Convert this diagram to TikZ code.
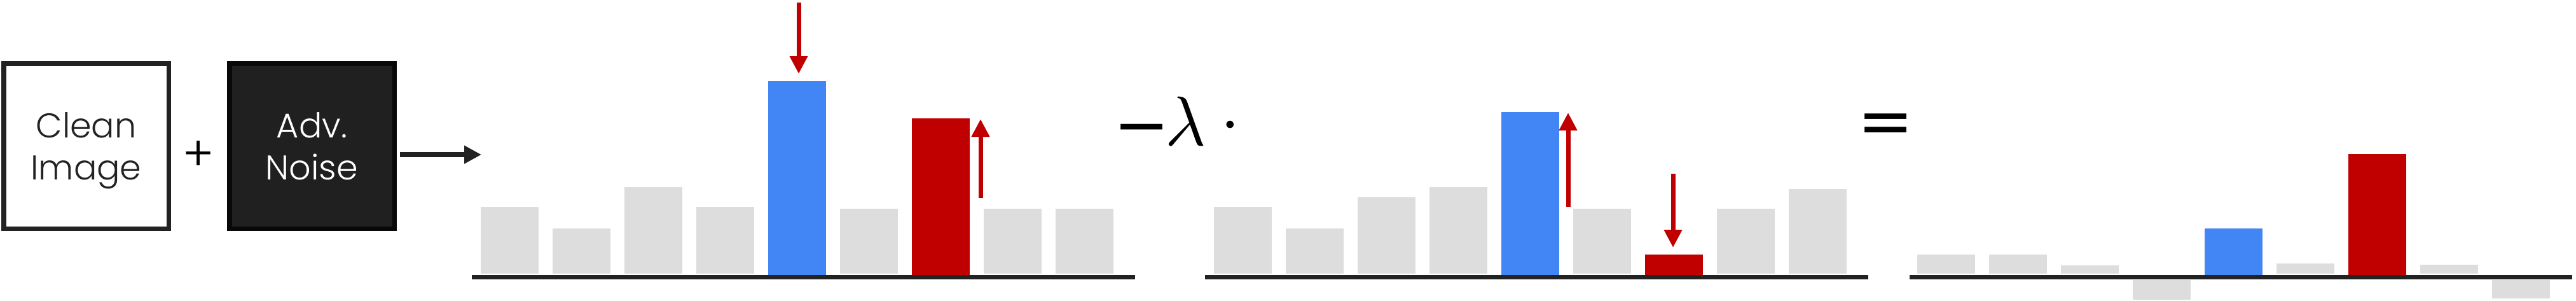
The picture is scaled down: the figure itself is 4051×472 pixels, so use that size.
\documentclass[tikz,border=0pt]{standalone}
\usepackage[no-math]{fontspec}
\IfFontExistsTF{Poppins Light}{\setmainfont{Poppins Light}}{\setmainfont{Poppins}}
\newfontfamily\symfont{DejaVu Sans}
\usepackage{graphicx}
\usetikzlibrary{arrows.meta}
\definecolor{gbar}{HTML}{DDDDDD}
\definecolor{bbar}{HTML}{4285F4}
\definecolor{rbar}{HTML}{C00000}
\definecolor{dark}{HTML}{222222}
\definecolor{noisefill}{HTML}{202020}
\definecolor{noiseline}{HTML}{080808}
\begin{document}
\begin{tikzpicture}[x=1pt,y=-1pt,
  box/.style={minimum width=259.5pt,minimum height=259.5pt,line width=7.5pt,inner sep=0pt},
  lbl/.style={font=\fontsize{54}{66}\selectfont,anchor=base,inner sep=0pt},
  mathsym/.style={anchor=base,inner sep=0pt,text=black},
  blackarrow/.style={draw=dark,line width=8pt,-{Triangle[length=27pt,width=27pt]}},
  redarrow/.style={draw=rbar,line width=7pt,-{Triangle[length=28pt,width=27pt]}},
  gbarst/.style={fill=gbar},
  axisst/.style={fill=dark}]
\useasboundingbox (0,0) rectangle (4051,472);
\fill[white] (0,0) rectangle (4051,472);

% input boxes
\node[box,draw=dark,fill=white] (clean) at (135.5,229.5) {};
\node[lbl,text=dark] (cleanA) at (135.5,216) {Clean};
\node[lbl,text=dark] (cleanB) at (135.5,282) {Image};
\node[inner sep=0pt,font=\fontsize{75}{80}\selectfont,text=black] (plus) at (312,245) {+};
\node[box,draw=noiseline,fill=noisefill] (adv) at (490.5,229.5) {};
\node[lbl,text=white] (advA) at (490.5,216) {Adv.};
\node[lbl,text=white] (advB) at (490.5,282) {Noise};
\coordinate (arrS) at (629,243);
\coordinate (arrE) at (757,243);
\draw[blackarrow] (arrS) -- (arrE);

% panel 1
\foreach \i/\t in {0/325,1/359,2/294,3/325,5/328,7/328,8/328}
  \fill[gbarst] (756+113*\i,\t) rectangle (756+113*\i+91,430);
\fill[bbar] (756+113*4,127) rectangle (756+113*4+91,432);
\fill[rbar] (756+113*6,186) rectangle (756+113*6+91,432);
\fill[axisst] (742,432) rectangle (1785,439);
\coordinate (p1aS) at (1256,4);
\coordinate (p1aE) at (1256,116);
\draw[redarrow] (p1aS) -- (p1aE);
\coordinate (p1bS) at (1542,311);
\coordinate (p1bE) at (1542,187);
\draw[redarrow] (p1bS) -- (p1bE);

% operator
\node[mathsym,font=\symfont\fontsize{105}{110}\selectfont] (minus) at (1795,232) {−};
\node[mathsym] (lam) at (1865,228) {\scalebox{11}{$\lambda$}};
\node[mathsym] (cdot) at (1934.5,223.5) {\scalebox{11}{$\cdot$}};

% panel 2
\foreach \i/\t in {0/325,1/359,2/310,3/294,5/328,7/328,8/297}
  \fill[gbarst] (1909+113*\i,\t) rectangle (1909+113*\i+91,430);
\fill[bbar] (1909+113*4,176) rectangle (1909+113*4+91,432);
\fill[rbar] (1909+113*6,400) rectangle (1909+113*6+91,432);
\fill[axisst] (1895,432) rectangle (2938,439);
\coordinate (p2aS) at (2466,325);
\coordinate (p2aE) at (2466,177);
\draw[redarrow] (p2aS) -- (p2aE);
\coordinate (p2bS) at (2631,273);
\coordinate (p2bE) at (2631,389);
\draw[redarrow] (p2bS) -- (p2bE);

% equals
\node[mathsym,font=\symfont\fontsize{105}{110}\selectfont] (eq) at (2965,226) {=};

% panel 3
\foreach \i/\t in {0/400,1/400,2/417,5/414,7/416}
  \fill[gbarst] (3015+113*\i,\t) rectangle (3015+113*\i+91,430);
\fill[gbarst] (3015+113*3,440) rectangle (3015+113*3+91,471);
\fill[gbarst] (3015+113*8,440) rectangle (3015+113*8+91,469);
\fill[bbar] (3015+113*4,359) rectangle (3015+113*4+91,432);
\fill[rbar] (3015+113*6,242) rectangle (3015+113*6+91,432);
\fill[axisst] (3003,432) rectangle (4045,439);
\end{tikzpicture}
\end{document}
